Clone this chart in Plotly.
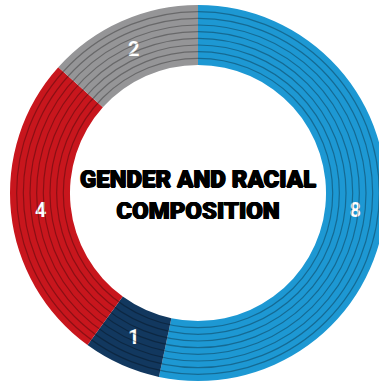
import plotly.graph_objects as go

# Composition counts, drawn clockwise from 12 o'clock
categories = ["Group 1", "Group 2", "Group 3", "Group 4"]
counts = [8, 1, 4, 2]
colors = ["#1d98d3", "#12385f", "#c8161d", "#959597"]

center_title = "GENDER AND RACIAL<br>COMPOSITION"

HOLE = 0.681          # inner radius / outer radius
N_BANDS = 9           # concentric bands inside the ring

fig = go.Figure(
    go.Pie(
        labels=categories,
        values=counts,
        sort=False,
        direction="clockwise",
        rotation=0,
        hole=HOLE,
        marker=dict(colors=colors, line=dict(width=0)),
        textinfo="value",
        textposition="inside",
        insidetextorientation="horizontal",
        textfont=dict(family="Roboto", size=20, color="white", weight="bold"),
        title=dict(
            text=center_title,
            position="middle center",
            font=dict(
                family="Roboto",
                size=24,
                color="black",
                weight=900,
                shadow="0.7px 0 0 black, -0.7px 0 0 black, 0 0.5px 0 black",
            ),
        ),
        hoverinfo="skip",
        showlegend=False,
    )
)

# Thin darker rings splitting the donut into concentric bands
ring_width = 0.5 * (1 - HOLE)
shapes = []
for k in range(1, N_BANDS):
    r = 0.5 - k * ring_width / N_BANDS
    shapes.append(
        dict(
            type="circle",
            xref="paper",
            yref="paper",
            x0=0.5 - r,
            x1=0.5 + r,
            y0=0.5 - r,
            y1=0.5 + r,
            line=dict(color="rgba(0,0,0,0.3)", width=1.2),
            layer="above",
        )
    )

fig.update_layout(
    width=386,
    height=383,
    margin=dict(l=10, r=0, t=5, b=2, pad=0),
    paper_bgcolor="white",
    plot_bgcolor="white",
    shapes=shapes,
)

fig.write_html(
    "out.html",
    config={"displayModeBar": False},
    post_script="document.documentElement.style.overflow='hidden';document.body.style.overflow='hidden';document.body.style.margin='0';",
)
